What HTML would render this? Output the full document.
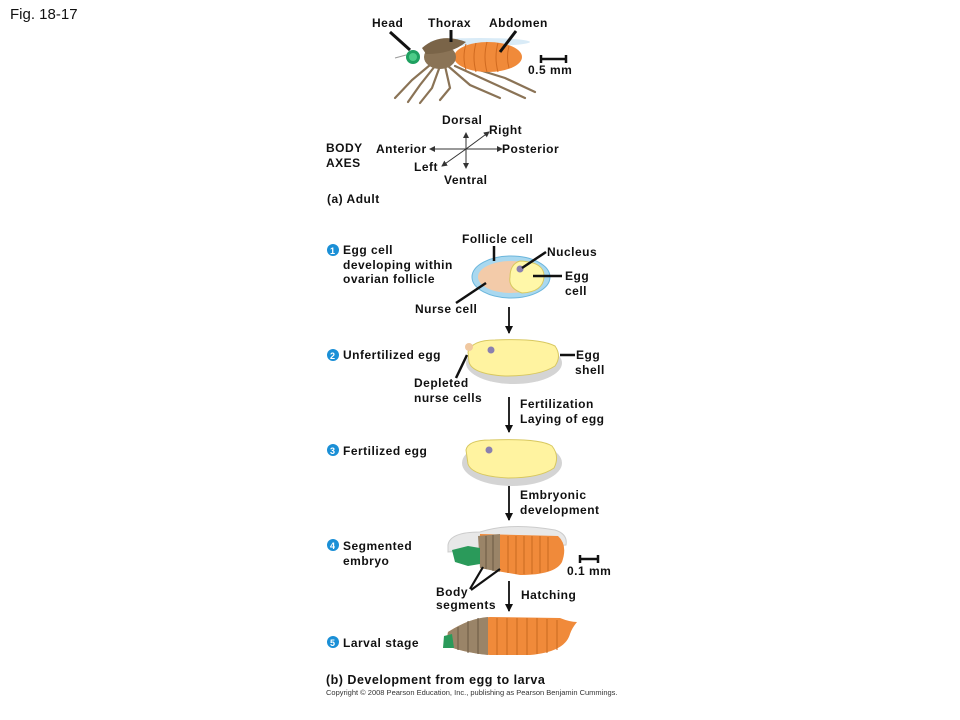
<!DOCTYPE html>
<html><head><meta charset="utf-8"><style>
html,body{margin:0;padding:0;background:#fff;}
svg{display:block;}
text{font-family:"Liberation Sans",Arial,sans-serif;font-weight:bold;font-size:12px;fill:#111;letter-spacing:0.5px;}
.n{font-weight:normal;letter-spacing:0;}
.c{fill:#fff;font-size:9px;letter-spacing:0;}
</style></head><body>
<svg width="960" height="720" viewBox="0 0 960 720" xmlns="http://www.w3.org/2000/svg">
<defs>
<marker id="ah" markerWidth="8" markerHeight="8" refX="7" refY="4" orient="auto" markerUnits="userSpaceOnUse"><path d="M0,0 L8,4 L0,8 z" fill="#111"/></marker>
<marker id="as" markerWidth="6" markerHeight="6" refX="5" refY="3" orient="auto" markerUnits="userSpaceOnUse"><path d="M0,0 L6,3 L0,6 z" fill="#333"/></marker>
</defs>
<text x="10" y="19" class="n" style="font-size:15px">Fig. 18-17</text>

<!-- Fly -->
<ellipse cx="480" cy="42" rx="50" ry="4" fill="#cfe6f5" opacity="0.8"/>
<g stroke="#8a7356" stroke-width="2.2" fill="none" stroke-linecap="round">
<path d="M430,65 L412,80 L395,98"/><path d="M435,66 L420,85 L408,102"/><path d="M440,66 L432,88 L420,103"/>
<path d="M448,66 L470,85 L500,98"/><path d="M455,66 L490,82 L525,98"/><path d="M460,64 L505,78 L535,92"/>
<path d="M445,66 L450,88 L440,100"/>
</g>
<ellipse cx="488" cy="57" rx="34" ry="15" fill="#f08a3a"/>
<g stroke="#d06a20" stroke-width="1" fill="none"><path d="M466,44 q-4,13 0,26"/><path d="M476,43 q-4,14 0,29"/><path d="M487,42 q-4,15 0,30"/><path d="M498,43 q-4,14 0,29"/><path d="M509,46 q-3,11 0,22"/></g>
<ellipse cx="440" cy="57" rx="16" ry="12" fill="#8a7356"/>
<path d="M422,48 Q440,32 466,42 Q452,54 426,54 z" fill="#7a6448"/>
<circle cx="413" cy="57" r="7" fill="#1fa060"/><circle cx="413" cy="57" r="4" fill="#4dcc88"/>
<path d="M406,55 L395,58" stroke="#999" stroke-width="1"/>
<g stroke="#111" stroke-width="3"><line x1="390" y1="32" x2="410" y2="50"/><line x1="451" y1="30" x2="451" y2="42"/><line x1="516" y1="31" x2="500" y2="52"/></g>
<text x="372" y="27">Head</text><text x="428" y="27">Thorax</text><text x="489" y="27">Abdomen</text>
<g stroke="#111" stroke-width="2.5"><line x1="540" y1="59" x2="567" y2="59"/><line x1="541" y1="55" x2="541" y2="63"/><line x1="566" y1="55" x2="566" y2="63"/></g>
<text x="528" y="74">0.5 mm</text>

<!-- Axes -->
<g stroke="#333" stroke-width="1">
<line x1="466" y1="164" x2="466" y2="133" marker-end="url(#as)"/>
<line x1="466" y1="149" x2="466" y2="168" marker-end="url(#as)"/>
<line x1="466" y1="149" x2="430" y2="149" marker-end="url(#as)"/>
<line x1="466" y1="149" x2="502" y2="149" marker-end="url(#as)"/>
<line x1="466" y1="149" x2="489" y2="132" marker-end="url(#as)"/>
<line x1="466" y1="149" x2="442" y2="166" marker-end="url(#as)"/>
</g>
<text x="442" y="124">Dorsal</text><text x="489" y="134">Right</text>
<text x="376" y="153">Anterior</text><text x="502" y="153">Posterior</text>
<text x="414" y="171">Left</text><text x="444" y="184">Ventral</text>
<text x="326" y="152">BODY</text><text x="326" y="167">AXES</text>
<text x="327" y="203">(a) Adult</text>

<!-- Stage 1 -->
<circle cx="333" cy="250" r="6" fill="#1a8fd6"/><text x="330" y="254" class="c">1</text>
<text x="343" y="254">Egg cell</text><text x="343" y="269">developing within</text><text x="343" y="283">ovarian follicle</text>
<ellipse cx="511" cy="277" rx="39" ry="21" fill="#a9d8ef" stroke="#6bb6dc"/>
<ellipse cx="511" cy="277" rx="33" ry="16" fill="#f3cba9"/>
<path d="M520,261 Q545,262 544,277 Q543,292 522,293 Q508,288 510,277 Q510,264 520,261z" fill="#fff7a8" stroke="#d8c860"/>
<circle cx="520" cy="269" r="3.5" fill="#8a80b0"/>
<g stroke="#111" stroke-width="2.5"><line x1="494" y1="246" x2="494" y2="261"/><line x1="522" y1="268" x2="546" y2="252"/><line x1="533" y1="276" x2="562" y2="276"/><line x1="456" y1="303" x2="486" y2="283"/></g>
<text x="462" y="243">Follicle cell</text><text x="547" y="256">Nucleus</text>
<text x="565" y="280">Egg</text><text x="565" y="295">cell</text><text x="415" y="313">Nurse cell</text>
<line x1="509" y1="307" x2="509" y2="333" stroke="#111" stroke-width="1.8" marker-end="url(#ah)"/>

<!-- Stage 2 -->
<ellipse cx="514" cy="363" rx="48" ry="21" fill="#d4d4d4"/>
<path d="M468,352 Q472,340 495,340 Q540,338 555,346 Q562,356 555,366 Q540,376 505,376 Q472,374 469,362z" fill="#fff3a0" stroke="#d8c860"/>
<circle cx="469" cy="347" r="4" fill="#f0c8a0"/>
<circle cx="491" cy="350" r="3.5" fill="#8a80b0"/>
<circle cx="333" cy="355" r="6" fill="#1a8fd6"/><text x="330" y="359" class="c">2</text>
<text x="343" y="359">Unfertilized egg</text>
<g stroke="#111" stroke-width="2.5"><line x1="560" y1="355" x2="575" y2="355"/><line x1="467" y1="355" x2="456" y2="378"/></g>
<text x="576" y="359">Egg</text><text x="575" y="374">shell</text>
<text x="414" y="387">Depleted</text><text x="414" y="402">nurse cells</text>
<line x1="509" y1="397" x2="509" y2="432" stroke="#111" stroke-width="1.8" marker-end="url(#ah)"/>
<text x="520" y="408">Fertilization</text><text x="520" y="423">Laying of egg</text>

<!-- Stage 3 -->
<ellipse cx="512" cy="463" rx="50" ry="23" fill="#d4d4d4"/>
<path d="M466,450 Q468,440 490,440 Q540,438 552,446 Q560,456 554,468 Q540,478 508,478 Q472,476 468,464z" fill="#fff3a0" stroke="#d8c860"/>
<circle cx="489" cy="450" r="3.5" fill="#8a80b0"/>
<circle cx="333" cy="450" r="6" fill="#1a8fd6"/><text x="330" y="454" class="c">3</text>
<text x="343" y="455">Fertilized egg</text>
<line x1="509" y1="486" x2="509" y2="520" stroke="#111" stroke-width="1.8" marker-end="url(#ah)"/>
<text x="520" y="499">Embryonic</text><text x="520" y="514">development</text>

<!-- Stage 4 -->
<path d="M448,545 Q450,532 480,532 Q510,522 555,530 Q568,534 566,545 L448,552z" fill="#e8e8e8" stroke="#ccc"/>
<path d="M480,534 L558,536 Q568,545 562,562 Q555,575 520,575 L480,568z" fill="#f08a3a"/>
<path d="M478,536 L500,534 L500,572 L480,568z" fill="#9a8468"/>
<g stroke="#c86a20" stroke-width="1"><line x1="508" y1="536" x2="508" y2="573"/><line x1="516" y1="536" x2="516" y2="574"/><line x1="524" y1="536" x2="524" y2="574"/><line x1="532" y1="536" x2="532" y2="574"/><line x1="540" y1="536" x2="540" y2="573"/><line x1="548" y1="537" x2="548" y2="571"/></g>
<g stroke="#6a5842" stroke-width="1"><line x1="486" y1="536" x2="486" y2="569"/><line x1="493" y1="535" x2="493" y2="571"/></g>
<path d="M452,550 L468,546 L480,548 L480,564 L468,566 L455,562z" fill="#2a9a5a"/>
<circle cx="333" cy="545" r="6" fill="#1a8fd6"/><text x="330" y="549" class="c">4</text>
<text x="343" y="550">Segmented</text><text x="343" y="565">embryo</text>
<g stroke="#111" stroke-width="2.5"><line x1="579" y1="559" x2="599" y2="559"/><line x1="580" y1="555" x2="580" y2="563"/><line x1="598" y1="555" x2="598" y2="563"/></g>
<text x="567" y="575">0.1 mm</text>
<g stroke="#111" stroke-width="2.2"><line x1="483" y1="567" x2="470" y2="589"/><line x1="500" y1="569" x2="471" y2="590"/></g>
<text x="436" y="596">Body</text><text x="436" y="609">segments</text>
<line x1="509" y1="581" x2="509" y2="611" stroke="#111" stroke-width="1.8" marker-end="url(#ah)"/>
<text x="521" y="599">Hatching</text>

<!-- Stage 5 -->
<path d="M448,632 Q470,618 490,617 L560,618 Q570,622 577,622 Q572,628 570,634 Q565,652 530,655 L490,655 Q460,652 446,645z" fill="#f08a3a"/>
<path d="M448,632 Q470,618 488,617 L488,655 Q460,652 446,645z" fill="#9a8468"/>
<g stroke="#c86a20" stroke-width="1"><line x1="497" y1="618" x2="497" y2="655"/><line x1="507" y1="618" x2="507" y2="655"/><line x1="517" y1="618" x2="517" y2="655"/><line x1="527" y1="618" x2="527" y2="655"/><line x1="537" y1="618" x2="537" y2="654"/><line x1="547" y1="619" x2="547" y2="653"/><line x1="557" y1="620" x2="557" y2="650"/></g>
<g stroke="#6a5842" stroke-width="1"><line x1="458" y1="627" x2="458" y2="650"/><line x1="468" y1="621" x2="468" y2="653"/><line x1="478" y1="618" x2="478" y2="654"/></g>
<path d="M444,636 L452,634 L454,648 L443,648z" fill="#2a9a5a"/>
<circle cx="333" cy="642" r="6" fill="#1a8fd6"/><text x="330" y="646" class="c">5</text>
<text x="343" y="647">Larval stage</text>

<text x="326" y="684" style="font-size:12.5px">(b) Development from egg to larva</text>
<text x="326" y="695" class="n" style="font-size:7.5px;fill:#333">Copyright © 2008 Pearson Education, Inc., publishing as Pearson Benjamin Cummings.</text>
</svg>
</body></html>
